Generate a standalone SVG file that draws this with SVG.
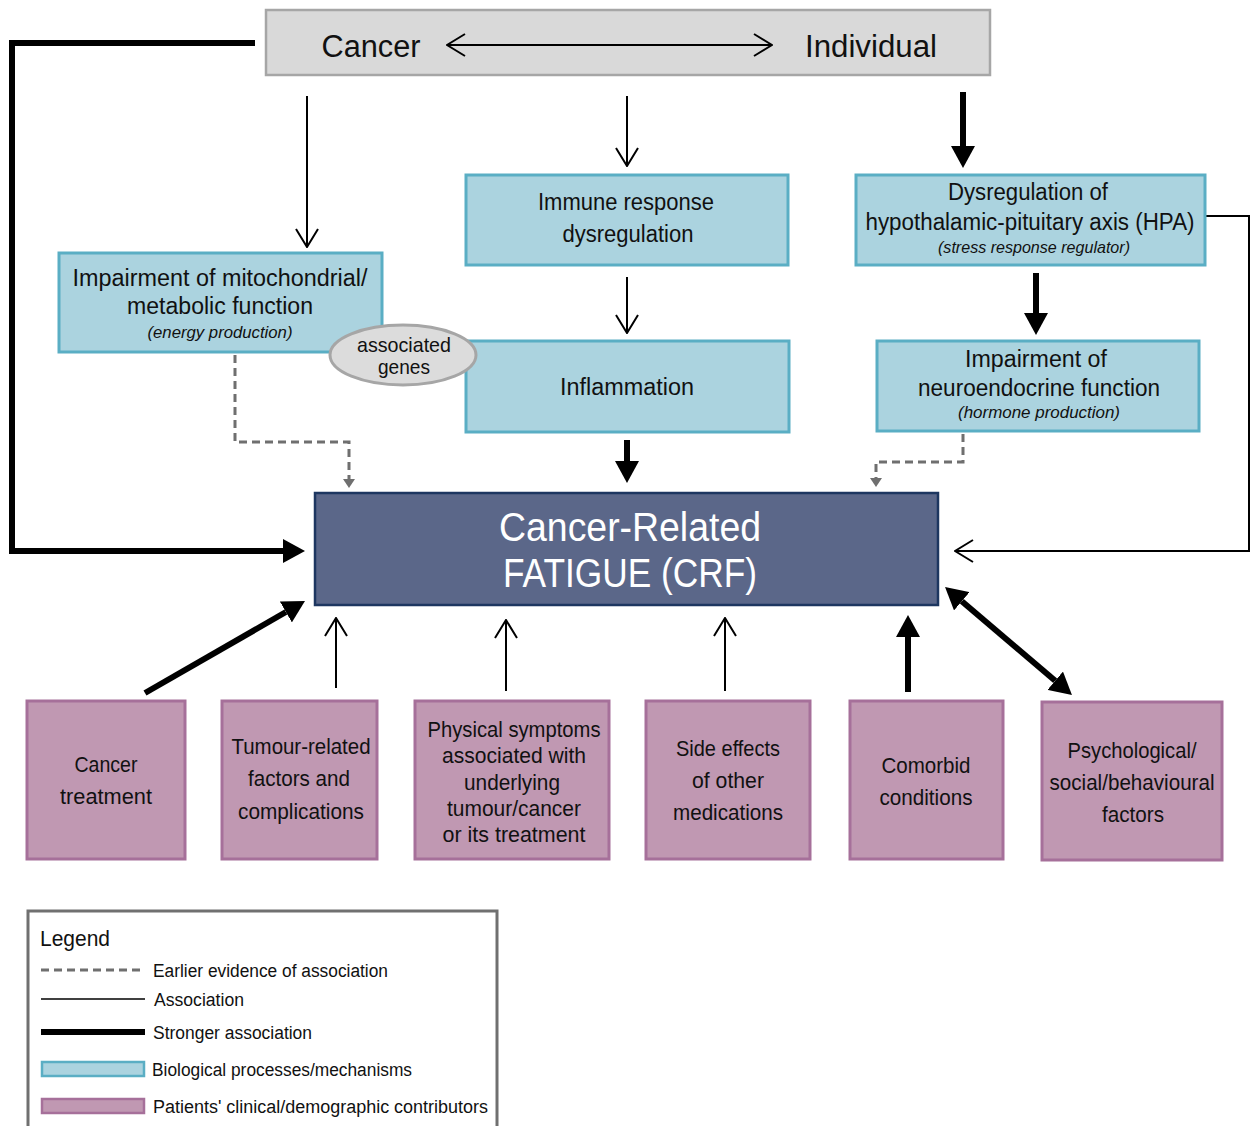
<svg xmlns="http://www.w3.org/2000/svg" width="1251" height="1126" viewBox="0 0 1251 1126">
<style>
text{font-family:"Liberation Sans",Arial,sans-serif;fill:#111;text-anchor:middle}
.big{font-size:31px}
.m{font-size:23px}
.s{font-size:17px;font-style:italic}
.b{font-size:22px}
.crf{font-size:40px;fill:#fff}
.lg{font-size:18px;text-anchor:start}
.top{fill:#d9d9d9;stroke:#a6a6a6;stroke-width:2.5}
.bio{fill:#abd3df;stroke:#5aaec4;stroke-width:3}
.pat{fill:#c098b2;stroke:#a6709a;stroke-width:3}
.thin{fill:none;stroke:#000;stroke-width:2}
.thick{fill:none;stroke:#000;stroke-width:6}
.dash{fill:none;stroke:#6f6f6f;stroke-width:3;stroke-dasharray:8 5}
</style>
<defs>
<marker id="open" markerUnits="userSpaceOnUse" viewBox="0 0 20 24" markerWidth="20" markerHeight="24" refX="19" refY="12" orient="auto-start-reverse"><path d="M1,1 L19,12 L1,23" fill="none" stroke="#000" stroke-width="2"/></marker>
<marker id="solid" markerUnits="userSpaceOnUse" viewBox="0 0 22 24" markerWidth="22" markerHeight="24" refX="0" refY="12" orient="auto-start-reverse"><path d="M0,0 L22,12 L0,24 Z" fill="#000"/></marker>
<marker id="grey" markerUnits="userSpaceOnUse" viewBox="0 0 9 12" markerWidth="9" markerHeight="12" refX="0" refY="6" orient="auto"><path d="M0,0 L9,6 L0,12 Z" fill="#6f6f6f"/></marker>
</defs>

<g id="top">
<rect class="top" x="266" y="10" width="724" height="65"/>
<text class="big" x="371" y="57" textLength="99" lengthAdjust="spacingAndGlyphs">Cancer</text>
<text class="big" x="871" y="57" textLength="132" lengthAdjust="spacingAndGlyphs">Individual</text>
</g>

<g id="connectors">
<path class="thick" d="M255,43 H12 V551 H283" marker-end="url(#solid)"/>
<path class="thin" d="M447,45 H772" marker-start="url(#open)" marker-end="url(#open)"/>
<path class="thin" d="M307,96 V247" marker-end="url(#open)"/>
<path class="thin" d="M627,96 V166" marker-end="url(#open)"/>
<path class="thick" d="M963,92 V146" marker-end="url(#solid)"/>
<path class="thin" d="M627,277 V333" marker-end="url(#open)"/>
<path class="thick" d="M1036,273 V313" marker-end="url(#solid)"/>
<path class="thin" d="M1205,216 H1249 V551 H955" marker-end="url(#open)"/>
<path class="thick" d="M627,440 V461" marker-end="url(#solid)"/>
<path class="dash" d="M235,355 V442 H349 V479" marker-end="url(#grey)"/>
<path class="dash" d="M963,434 V462 H876 V478" marker-end="url(#grey)"/>
<path class="thick" d="M145,693 L285.9,612" marker-end="url(#solid)"/>
<path class="thin" d="M336,688 V618" marker-end="url(#open)"/>
<path class="thin" d="M506,691 V620" marker-end="url(#open)"/>
<path class="thin" d="M725,691 V618" marker-end="url(#open)"/>
<path class="thick" d="M908,692 V637" marker-end="url(#solid)"/>
<path class="thick" d="M961.8,601.3 L1055.2,680.7" marker-start="url(#solid)" marker-end="url(#solid)"/>
</g>

<g id="mito">
<rect class="bio" x="59" y="253" width="323" height="99"/>
<text class="m" x="220" y="286" textLength="295" lengthAdjust="spacingAndGlyphs">Impairment of mitochondrial/</text>
<text class="m" x="220" y="314" textLength="186" lengthAdjust="spacingAndGlyphs">metabolic function</text>
<text class="s" x="220" y="338" textLength="145" lengthAdjust="spacingAndGlyphs">(energy production)</text>
</g>

<g id="immune">
<rect class="bio" x="466" y="175" width="322" height="90"/>
<text class="m" x="626" y="210" textLength="176" lengthAdjust="spacingAndGlyphs">Immune response</text>
<text class="m" x="628" y="242" textLength="131" lengthAdjust="spacingAndGlyphs">dysregulation</text>
</g>

<g id="hpa">
<rect class="bio" x="856" y="175" width="349" height="90"/>
<text class="m" x="1028" y="200" textLength="160" lengthAdjust="spacingAndGlyphs">Dysregulation of</text>
<text class="m" x="1030" y="230" textLength="329" lengthAdjust="spacingAndGlyphs">hypothalamic-pituitary axis (HPA)</text>
<text class="s" x="1034" y="253" textLength="192" lengthAdjust="spacingAndGlyphs">(stress response regulator)</text>
</g>

<g id="inflammation">
<rect class="bio" x="466" y="341" width="323" height="91"/>
<text class="m" x="627" y="395" textLength="134" lengthAdjust="spacingAndGlyphs">Inflammation</text>
</g>

<g id="neuro">
<rect class="bio" x="877" y="341" width="322" height="90"/>
<text class="m" x="1036" y="367" textLength="142" lengthAdjust="spacingAndGlyphs">Impairment of</text>
<text class="m" x="1039" y="396" textLength="242" lengthAdjust="spacingAndGlyphs">neuroendocrine function</text>
<text class="s" x="1039" y="418" textLength="162" lengthAdjust="spacingAndGlyphs">(hormone production)</text>
</g>

<g id="genes">
<ellipse cx="403" cy="355" rx="73" ry="30" fill="#dcdcdc" stroke="#a6a6a6" stroke-width="3"/>
<text x="404" y="352" style="font-size:21px" textLength="94" lengthAdjust="spacingAndGlyphs">associated</text>
<text x="404" y="374" style="font-size:21px" textLength="52" lengthAdjust="spacingAndGlyphs">genes</text>
</g>

<g id="crf">
<rect x="315" y="493" width="623" height="112" fill="#5b6789" stroke="#1d3660" stroke-width="2.5"/>
<text class="crf" x="630" y="541" textLength="262" lengthAdjust="spacingAndGlyphs">Cancer-Related</text>
<text class="crf" x="630" y="587" textLength="254" lengthAdjust="spacingAndGlyphs">FATIGUE (CRF)</text>
</g>

<g id="treatment">
<rect class="pat" x="27" y="701" width="158" height="158"/>
<text class="b" x="106" y="772" textLength="63" lengthAdjust="spacingAndGlyphs">Cancer</text>
<text class="b" x="106" y="804" textLength="92" lengthAdjust="spacingAndGlyphs">treatment</text>
</g>

<g id="tumour">
<rect class="pat" x="222" y="701" width="155" height="158"/>
<text class="b" x="301" y="754" textLength="139" lengthAdjust="spacingAndGlyphs">Tumour-related</text>
<text class="b" x="299" y="786" textLength="102" lengthAdjust="spacingAndGlyphs">factors and</text>
<text class="b" x="301" y="819" textLength="126" lengthAdjust="spacingAndGlyphs">complications</text>
</g>

<g id="physical">
<rect class="pat" x="415" y="701" width="194" height="158"/>
<text class="b" x="514" y="737" textLength="173" lengthAdjust="spacingAndGlyphs">Physical symptoms</text>
<text class="b" x="514" y="763" textLength="144" lengthAdjust="spacingAndGlyphs">associated with</text>
<text class="b" x="512" y="790" textLength="96" lengthAdjust="spacingAndGlyphs">underlying</text>
<text class="b" x="514" y="816" textLength="134" lengthAdjust="spacingAndGlyphs">tumour/cancer</text>
<text class="b" x="514" y="842" textLength="143" lengthAdjust="spacingAndGlyphs">or its treatment</text>
</g>

<g id="side">
<rect class="pat" x="646" y="701" width="164" height="158"/>
<text class="b" x="728" y="756" textLength="104" lengthAdjust="spacingAndGlyphs">Side effects</text>
<text class="b" x="728" y="788" textLength="72" lengthAdjust="spacingAndGlyphs">of other</text>
<text class="b" x="728" y="820" textLength="110" lengthAdjust="spacingAndGlyphs">medications</text>
</g>

<g id="comorbid">
<rect class="pat" x="850" y="701" width="153" height="158"/>
<text class="b" x="926" y="773" textLength="89" lengthAdjust="spacingAndGlyphs">Comorbid</text>
<text class="b" x="926" y="805" textLength="93" lengthAdjust="spacingAndGlyphs">conditions</text>
</g>

<g id="psych">
<rect class="pat" x="1042" y="702" width="180" height="158"/>
<text class="b" x="1132" y="758" textLength="129" lengthAdjust="spacingAndGlyphs">Psychological/</text>
<text class="b" x="1132" y="790" textLength="165" lengthAdjust="spacingAndGlyphs">social/behavioural</text>
<text class="b" x="1133" y="822" textLength="62" lengthAdjust="spacingAndGlyphs">factors</text>
</g>

<g id="legend">
<rect x="28" y="911" width="469" height="230" fill="#fff" stroke="#707070" stroke-width="3"/>
<text x="40" y="946" style="font-size:22px;text-anchor:start" textLength="70" lengthAdjust="spacingAndGlyphs">Legend</text>
<line x1="41" y1="970" x2="145" y2="970" stroke="#6f6f6f" stroke-width="3" stroke-dasharray="8 5"/>
<text class="lg" x="153" y="977" textLength="235" lengthAdjust="spacingAndGlyphs">Earlier evidence of association</text>
<line x1="41" y1="999" x2="145" y2="999" stroke="#000" stroke-width="1.5"/>
<text class="lg" x="154" y="1006" textLength="90" lengthAdjust="spacingAndGlyphs">Association</text>
<line x1="41" y1="1032" x2="145" y2="1032" stroke="#000" stroke-width="6"/>
<text class="lg" x="153" y="1039" textLength="159" lengthAdjust="spacingAndGlyphs">Stronger association</text>
<rect class="bio" x="42" y="1062" width="102" height="14" style="stroke-width:2.5"/>
<text class="lg" x="152" y="1076" textLength="260" lengthAdjust="spacingAndGlyphs">Biological processes/mechanisms</text>
<rect class="pat" x="42" y="1099" width="102" height="14" style="stroke-width:2.5"/>
<text class="lg" x="153" y="1113" textLength="335" lengthAdjust="spacingAndGlyphs">Patients' clinical/demographic contributors</text>
</g>
</svg>
